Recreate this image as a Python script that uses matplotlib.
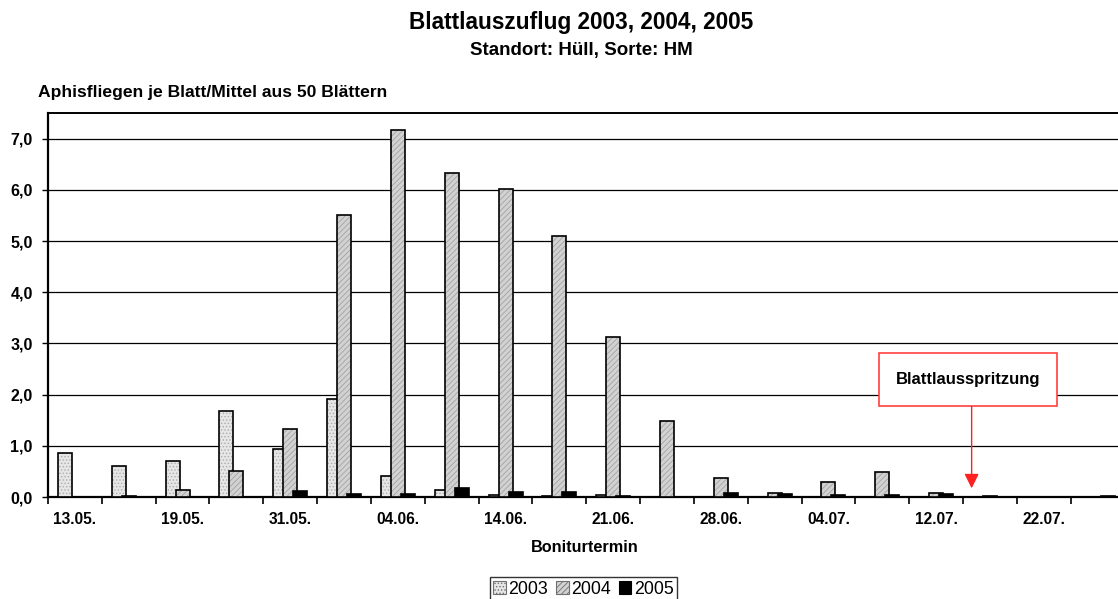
import matplotlib
matplotlib.use("Agg")
import matplotlib.pyplot as plt
from matplotlib.patches import Patch, Rectangle
import numpy as np

# ---- data ----
tick_labels = ['13.05.', '19.05.', '31.05.', '04.06.', '14.06.',
               '21.06.', '28.06.', '04.07.', '12.07.', '22.07.']
v2003 = [0.85, 0.61, 0.71, 1.67, 0.93, 1.92, 0.41, 0.14, 0.03, 0.02,
         0.03, 0.0, 0.0, 0.0, 0.0, 0.0, 0.0, 0.0, 0.0, 0.0]
v2004 = [0.0, 0.02, 0.13, 0.51, 1.33, 5.50, 7.17, 6.33, 6.02, 5.09,
         3.12, 1.49, 0.37, 0.08, 0.29, 0.49, 0.07, 0.01, 0.0, 0.0]
v2005 = [0.0, 0.0, 0.0, 0.0, 0.12, 0.06, 0.06, 0.17, 0.09, 0.09,
         0.01, 0.0, 0.07, 0.06, 0.03, 0.03, 0.06, 0.0, 0.0, 0.01]
series_names = ['2003', '2004', '2005']

plt.rcParams['font.family'] = ['Liberation Sans', 'DejaVu Sans']
plt.rcParams['hatch.linewidth'] = 0.6

W, H = 1118, 599
fig = plt.figure(figsize=(W / 100, H / 100), dpi=100)
ax = fig.add_axes([48 / W, (H - 497) / H, (1124.5 - 48) / W, (497 - 113) / H])

n = len(v2003)
x = np.arange(n)
w = 0.26
d = 0.186

styles = [
    dict(fc='#e6e6e6', hatch='.....', hc='#acacac'),
    dict(fc='#d2d2d2', hatch='//////', hc='#a2a2a2'),
    dict(fc='#000000', hatch=None, hc='#000000'),
]
for i, vals in enumerate([v2003, v2004, v2005]):
    st = styles[i]
    pos = x + (i - 1) * d
    heights = np.array(vals)
    mask = heights > 0
    ax.bar(pos[mask], heights[mask], width=w, color=st['fc'], hatch=st['hatch'],
           edgecolor=st['hc'], linewidth=0, zorder=3 + i)
    ax.bar(pos[mask], heights[mask], width=w, fill=False,
           edgecolor='black', linewidth=1.2, zorder=3 + i)

ax.set_xlim(-0.5, n - 0.5)
ax.set_ylim(0, 7.5)

# grid
yt = np.arange(0, 8, 1.0)
ax.set_yticks(yt)
ax.set_yticklabels([f"{v:.1f}".replace('.', ',') for v in yt],
                   fontsize=11.5, fontweight='bold')
for v in yt[1:]:
    ax.axhline(v, color='black', lw=0.9, zorder=1)

ax.set_xticks(np.arange(-0.5, n, 1.0))
ax.set_xticklabels([])
ax.set_xticks(x[::2], tick_labels, minor=True)
ax.tick_params(axis='x', which='major', direction='out', length=5, width=1.2)
ax.tick_params(axis='x', which='minor', length=0, pad=11, labelsize=11.2)
for lab in ax.get_xticklabels(minor=True):
    lab.set_fontweight('bold')
ax.tick_params(axis='y', direction='out', length=4, width=1, pad=7)

for s in ['left', 'bottom']:
    ax.spines[s].set_linewidth(1.6)
ax.spines['top'].set_linewidth(1.4)
ax.spines['right'].set_linewidth(1.4)

# titles
fig.text(581 / W, 1 - 23 / H, 'Blattlauszuflug 2003, 2004, 2005', ha='center', va='center',
         fontsize=16.3, fontweight='bold')
fig.text(581 / W, 1 - 50 / H, 'Standort: Hüll, Sorte: HM', ha='center', va='center',
         fontsize=13.5, fontweight='bold')
fig.text(38 / W, 1 - 92 / H, 'Aphisfliegen je Blatt/Mittel aus 50 Blättern', ha='left', va='center',
         fontsize=12.6, fontweight='bold')
fig.text(585 / W, 1 - 547 / H, 'Boniturtermin', ha='center', va='center',
         fontsize=11.7, fontweight='bold')

# annotation
ax.add_patch(Rectangle((14.94, 1.77), 3.31, 1.04, facecolor='white', edgecolor='#ff4040',
                       lw=1.2, zorder=6))
ax.text(14.94 + 3.31 / 2, 1.77 + 1.04 / 2, 'Blattlausspritzung', ha='center', va='center',
        fontsize=12, fontweight='bold', zorder=7)
ax.annotate('', xy=(16.66, 0.17), xytext=(16.66, 1.77),
            arrowprops=dict(arrowstyle='-|>', color='#ff2020', lw=1.0, mutation_scale=22,
                            shrinkA=0, shrinkB=0), zorder=7)

# legend
handles = [Patch(facecolor=styles[i]['fc'], hatch=styles[i]['hatch'],
                 edgecolor='#707070' if i < 2 else 'black', lw=0.8) for i in range(3)]
fig.legend(handles, series_names, loc='upper center', bbox_to_anchor=(583.5 / W, 1 - 577 / H),
           ncol=3, frameon=True, fancybox=False, edgecolor='black', fontsize=12.8,
           handlelength=0.7, handleheight=0.7, handletextpad=0.15, columnspacing=0.45,
           borderpad=0.2, borderaxespad=0)

fig.savefig('out.png', dpi=100)
